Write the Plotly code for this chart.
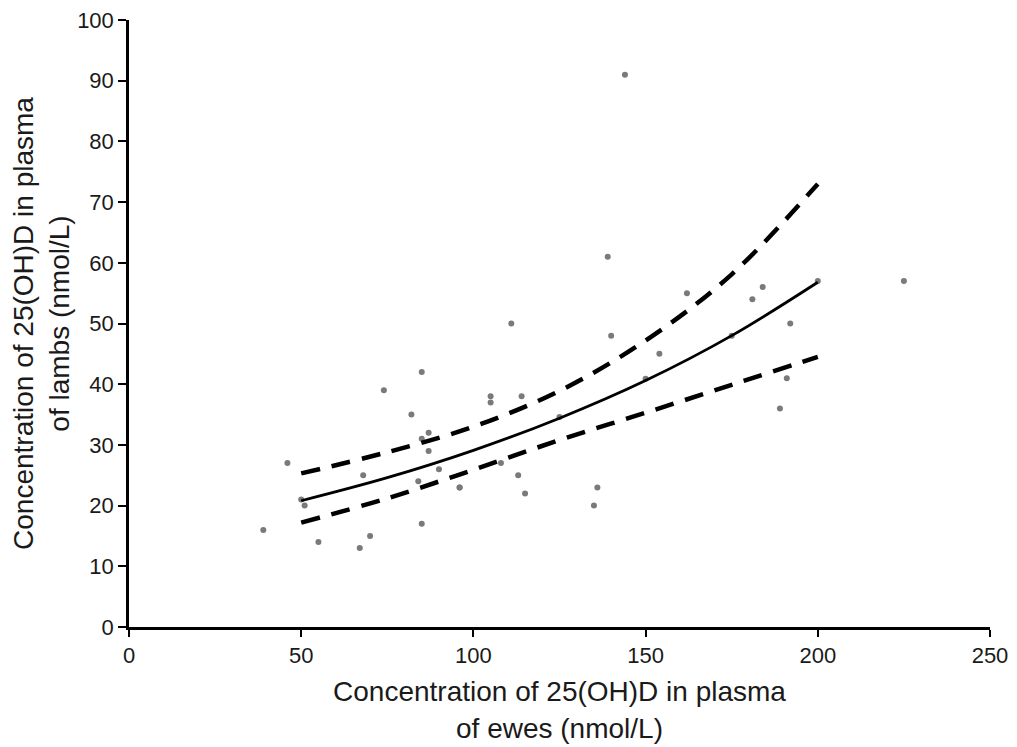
import plotly.graph_objects as go

# Scatter data: ewes (x) vs lambs (y), nmol/L
ewes = [39, 46, 50, 51, 55, 67, 68, 70, 74, 82, 84, 85, 85, 85, 87, 87, 90, 96, 96,
        105, 105, 108, 111, 113, 114, 115, 125, 135, 136, 139, 140, 144, 150, 154,
        162, 175, 181, 184, 189, 191, 192, 200, 225]
lambs = [16, 27, 21, 20, 14, 13, 25, 15, 39, 35, 24, 42, 31, 17, 32, 29, 26, 23, 23,
         38, 37, 27, 50, 25, 38, 22, 34.6, 20, 23, 61, 48, 91, 40.9, 45,
         55, 48, 54, 56, 36, 41, 50, 57, 57]

# Fitted curve and confidence limits
fit_x = [50, 75, 100, 125, 150, 175, 200]
fit_y = [20.8, 24.6, 29.1, 34.4, 40.6, 48.0, 56.8]
upper_y = [25.3, 28.8, 33.0, 38.9, 47.2, 58.1, 73.0]
lower_y = [17.2, 21.2, 25.9, 30.8, 35.3, 39.9, 44.5]

fig = go.Figure()
fig.add_trace(go.Scatter(x=ewes, y=lambs, mode="markers",
                         marker=dict(color="#7a7a7a", size=6), showlegend=False))
fig.add_trace(go.Scatter(x=fit_x, y=upper_y, mode="lines", line_shape="spline",
                         line=dict(color="black", width=4.5, dash="19px,12px"), showlegend=False))
fig.add_trace(go.Scatter(x=fit_x, y=lower_y, mode="lines", line_shape="spline",
                         line=dict(color="black", width=4.5, dash="19px,12px"), showlegend=False))
fig.add_trace(go.Scatter(x=fit_x, y=fit_y, mode="lines", line_shape="spline",
                         line=dict(color="black", width=2.8), showlegend=False))

font_family = "Liberation Sans, Arial, sans-serif"
# page body has an 8px margin, so the figure is shrunk and shifted accordingly
fig.update_layout(
    width=1009, height=739,
    margin=dict(l=121, r=27, t=12, b=120),
    paper_bgcolor="white", plot_bgcolor="white",
    font=dict(family=font_family, color="#1a1a1a", size=22),
)
fig.update_xaxes(
    range=[0, 250], tickvals=[0, 50, 100, 150, 200, 250],
    showline=True, linecolor="black", linewidth=2.5,
    ticks="outside", ticklen=7, tickwidth=2, tickcolor="black",
    showgrid=False, zeroline=False, tickfont=dict(size=22), automargin=False,
    ticklabeloverflow="allow",
    title=dict(text="Concentration of 25(OH)D in plasma<br>of ewes (nmol/L)",
               font=dict(size=28), standoff=15),
)
fig.update_yaxes(
    range=[0, 100], tickvals=list(range(0, 101, 10)),
    showline=True, linecolor="black", linewidth=2.5,
    ticks="outside", ticklen=8, tickwidth=2, tickcolor="black",
    showgrid=False, zeroline=False, tickfont=dict(size=22), automargin=False,
    ticklabeloverflow="allow",
    title=dict(text="Concentration of 25(OH)D in plasma<br>of lambs (nmol/L)",
               font=dict(size=28), standoff=12),
)
fig.write_html("out.html")
